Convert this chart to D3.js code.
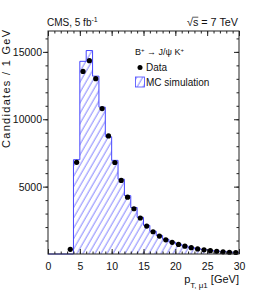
<!DOCTYPE html>
<html>
<head>
<meta charset="utf-8">
<script src="https://cdn.jsdelivr.net/npm/d3@7"></script>
<style>
  body { margin: 0; background: #fff; }
  svg { font-family: "Liberation Sans", Arial, sans-serif; }
</style>
</head>
<body>
<svg id="chart" width="266" height="300"></svg>
<script>
// MC histogram, 1 GeV bins starting at 0
const binEdges = d3.range(0, 31);
const mcCounts = [0, 0, 0, 0, 7000, 14300, 15100, 13200, 10900, 8700,
    6950, 5550, 4330, 3450, 2720, 2120, 1690, 1370, 1090, 890,
    730, 600, 480, 390, 320, 260, 210, 170, 140, 120];
// data points at bin centres
const dataX = d3.range(3.5, 30, 1);
const dataY = [350, 6800, 13550, 14350, 13010, 10790, 8760, 6790, 5460, 4220,
    3360, 2670, 2070, 1650, 1330, 1050, 870, 710, 580, 470,
    380, 310, 250, 200, 160, 130, 110];
const xTicks = [0, 5, 10, 15, 20, 25, 30];
const yTicks = [5000, 10000, 15000];

const margin = {left: 48, right: 27, top: 31, bottom: 46};
const W = 266, H = 300;

const svg = d3.select('#chart');

const x = d3.scaleLinear().domain([0, 30]).range([margin.left, W - margin.right]);
const y = d3.scaleLinear().domain([0, 16550]).range([H - margin.bottom, margin.top]);

// hatch pattern
svg.append('defs').append('pattern')
    .attr('id', 'hatch')
    .attr('patternUnits', 'userSpaceOnUse')
    .attr('width', 5.2)
    .attr('height', 10)
    .attr('patternTransform', 'rotate(30)')
    .append('line')
    .attr('x1', 1).attr('y1', 0)
    .attr('x2', 1).attr('y2', 10)
    .attr('stroke', '#7a7aff')
    .attr('stroke-width', 0.9);

// histogram outline as a step path
const steps = [];
mcCounts.forEach(function (v, i) {
    steps.push([binEdges[i], v]);
    steps.push([binEdges[i + 1], v]);
});
const area = d3.area()
    .x(function (d) { return x(d[0]); })
    .y0(y(0))
    .y1(function (d) { return y(d[1]); });
const line = d3.line()
    .x(function (d) { return x(d[0]); })
    .y(function (d) { return y(d[1]); });

svg.append('path')
    .datum(steps)
    .attr('d', area)
    .attr('fill', 'url(#hatch)');
svg.append('path')
    .datum(steps)
    .attr('d', line)
    .attr('fill', 'none')
    .attr('stroke', '#4646ff')
    .attr('stroke-width', 1);

// data points
svg.selectAll('circle.pt')
    .data(dataX)
    .enter()
    .append('circle')
    .attr('class', 'pt')
    .attr('cx', function (d) { return x(d); })
    .attr('cy', function (d, i) { return y(dataY[i]); })
    .attr('r', 2.6)
    .attr('fill', 'black');

// frame
svg.append('rect')
    .attr('x', x(0)).attr('y', y.range()[1])
    .attr('width', x(30) - x(0))
    .attr('height', y(0) - y.range()[1])
    .attr('fill', 'none')
    .attr('stroke', '#222')
    .attr('stroke-width', 1);

function styleAxis(g) {
    g.select('.domain').remove();
    g.selectAll('line').attr('stroke', '#222');
    g.selectAll('text').attr('font-size', 10.5).attr('fill', '#111')
        .attr('font-family', '"Liberation Sans", Arial, sans-serif');
}

// bottom axis, ticks inward
svg.append('g')
    .attr('transform', 'translate(0,' + y(0) + ')')
    .call(d3.axisBottom(x).tickValues(d3.range(0, 31)).tickSize(-2.5).tickFormat(''))
    .call(styleAxis);
svg.append('g')
    .attr('transform', 'translate(0,' + y(0) + ')')
    .call(d3.axisBottom(x).tickValues(xTicks).tickSize(-5).tickPadding(9).tickFormat(d3.format('d')))
    .call(styleAxis);

// top axis, ticks inward
svg.append('g')
    .attr('transform', 'translate(0,' + margin.top + ')')
    .call(d3.axisTop(x).tickValues(d3.range(0, 31)).tickSize(-2.5).tickFormat(''))
    .call(styleAxis);
svg.append('g')
    .attr('transform', 'translate(0,' + margin.top + ')')
    .call(d3.axisTop(x).tickValues(xTicks).tickSize(-5).tickFormat(''))
    .call(styleAxis);

// left axis, ticks outward
svg.append('g')
    .attr('transform', 'translate(' + margin.left + ',0)')
    .call(d3.axisLeft(y).tickValues(d3.range(1000, 16001, 1000)).tickSize(2.5).tickFormat(''))
    .call(styleAxis);
svg.append('g')
    .attr('transform', 'translate(' + margin.left + ',0)')
    .call(d3.axisLeft(y).tickValues(yTicks).tickSize(5).tickPadding(1).tickFormat(d3.format('d')))
    .call(styleAxis);

// right axis, ticks inward
svg.append('g')
    .attr('transform', 'translate(' + x(30) + ',0)')
    .call(d3.axisRight(y).tickValues(d3.range(1000, 16001, 1000)).tickSize(-2.5).tickFormat(''))
    .call(styleAxis);
svg.append('g')
    .attr('transform', 'translate(' + x(30) + ',0)')
    .call(d3.axisRight(y).tickValues(yTicks).tickSize(-5).tickFormat(''))
    .call(styleAxis);

// header texts
const cms = svg.append('text')
    .attr('x', 47).attr('y', 26)
    .attr('font-size', 10)
    .attr('fill', '#111');
cms.append('tspan').text('CMS, 5 fb');
cms.append('tspan').attr('font-size', 7).attr('dy', -4).text('-1');

const sqrtText = svg.append('text')
    .attr('x', 238).attr('y', 26)
    .attr('text-anchor', 'end')
    .attr('font-size', 10.8)
    .attr('fill', '#111')
    .text('\u221As = 7 TeV');
// overline for the radical, over the "s"
const sBox = sqrtText.node().getExtentOfChar(1);
svg.append('line')
    .attr('x1', sBox.x - 0.5).attr('x2', sBox.x + sBox.width)
    .attr('y1', sBox.y + 1.2).attr('y2', sBox.y + 1.2)
    .attr('stroke', '#111').attr('stroke-width', 0.7);

// legend
const lt = svg.append('text')
    .attr('x', 135).attr('y', 55)
    .attr('font-size', 9)
    .attr('fill', '#111');
lt.append('tspan').text('B');
lt.append('tspan').attr('font-size', 6).attr('dy', -3.5).text('+');
lt.append('tspan').attr('dy', 3.5).text(' \u2192 J/\u03C8 K');
lt.append('tspan').attr('font-size', 6).attr('dy', -3.5).text('+');

svg.append('circle')
    .attr('cx', 140).attr('cy', 67.5).attr('r', 2.5).attr('fill', 'black');
svg.append('text')
    .attr('x', 146).attr('y', 71)
    .attr('font-size', 10).attr('fill', '#111')
    .text('Data');

svg.append('rect')
    .attr('x', 135.5).attr('y', 77)
    .attr('width', 9).attr('height', 10)
    .attr('fill', 'url(#hatch)')
    .attr('stroke', '#4646ff')
    .attr('stroke-width', 0.8);
svg.append('text')
    .attr('x', 146).attr('y', 86)
    .attr('font-size', 10).attr('fill', '#111')
    .text('MC simulation');

// axis titles
const xt = svg.append('text')
    .attr('x', 239).attr('y', 283)
    .attr('text-anchor', 'end')
    .attr('font-size', 11)
    .attr('fill', '#111');
xt.append('tspan').text('p');
xt.append('tspan').attr('font-size', 8).attr('dy', 4.5).text('T, \u03BC1');
xt.append('tspan').attr('dy', -4.5).text(' [GeV]');

svg.append('text')
    .attr('transform', 'translate(9.5,' + (margin.top - 1) + ') rotate(-90)')
    .attr('text-anchor', 'end')
    .attr('font-size', 11)
    .attr('textLength', 118)
    .attr('lengthAdjust', 'spacing')
    .attr('fill', '#111')
    .text('Candidates / 1 GeV');
</script>
</body>
</html>
